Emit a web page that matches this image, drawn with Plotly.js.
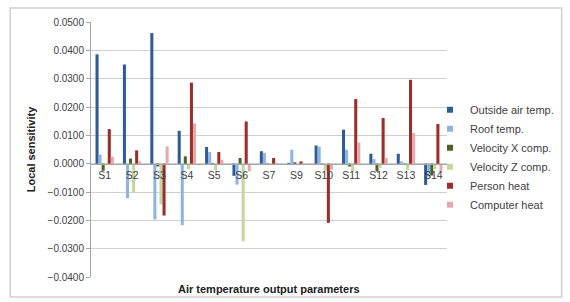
<!DOCTYPE html>
<html><head><meta charset="utf-8">
<script src="https://cdn.plot.ly/plotly-3.0.1.min.js"></script>
<style>html,body{margin:0;padding:0;background:#fff;}#chart{width:570px;height:302px;}</style>
</head><body><div id="chart"></div>
<script>
const categories = ["S1","S2","S3","S4","S5","S6","S7","S9","S10","S11","S12","S13","S14"];
const outsideAir  = [0.0386, 0.0350, 0.0461, 0.0116, 0.0059, -0.0043, 0.0044, 0.0003, 0.0064, 0.0120, 0.0035, 0.0035, -0.0075];
const roofTemp    = [0.0032, -0.0122, -0.0197, -0.0217, 0.0041, -0.0074, 0.0038, 0.0049, 0.0059, 0.0049, 0.0016, 0.0008, -0.0045];
const velocityX   = [-0.0025, 0.0018, -0.0010, 0.0026, 0.0002, 0.0020, -0.0005, 0.0005, -0.0005, -0.0010, -0.0028, -0.0005, -0.0042];
const velocityZ   = [-0.0003, -0.0100, -0.0144, -0.0020, -0.0024, -0.0274, -0.0002, 0.0001, -0.0025, -0.0027, -0.0015, -0.0023, -0.0020];
const personHeat  = [0.0122, 0.0047, -0.0183, 0.0286, 0.0041, 0.0149, 0.0020, 0.0008, -0.0209, 0.0228, 0.0161, 0.0296, 0.0140];
const computerHeat= [0.0024, 0.0008, 0.0061, 0.0142, 0.0014, -0.0027, 0.0003, 0.0001, -0.0022, 0.0075, 0.0020, 0.0108, -0.0030];

const seriesNames = ["Outside air temp.","Roof temp.","Velocity X comp.","Velocity Z comp.","Person heat","Computer heat"];
const seriesColors = ["#2E5C98","#8FB4E3","#4A6426","#C3D69B","#9B2D2B","#E6A9AB"];
const seriesData = [outsideAir, roofTemp, velocityX, velocityZ, personHeat, computerHeat];

const traces = seriesData.map((d,i)=>({
  type:'bar', x:categories, y:d, name:seriesNames[i], showlegend:false,
  marker:{color:seriesColors[i], line:{width:0}}
}));
// legend entries with small square symbols, as in the original
seriesNames.forEach((n,i)=>traces.push({
  type:'scatter', mode:'markers', x:[null], y:[null], name:n, showlegend:true,
  marker:{symbol:'square', size:6, color:seriesColors[i]}
}));

const plotL=91, plotR=448, plotT=22, plotB=277;
const H=302, W=570;
const zeroPos = (0-(-0.04))/(0.05-(-0.04));

const layout = {
  width:W, height:H,
  margin:{l:plotL, r:W-plotR, t:plotT, b:H-plotB},
  paper_bgcolor:'#fff', plot_bgcolor:'#fff',
  font:{family:'Liberation Sans, Arial, sans-serif', size:10, color:'#404040'},
  barmode:'group', bargap:0.33, bargroupgap:0,
  showlegend:true,
  legend:{x:(430-plotL)/(plotR-plotL), y:0.713, xanchor:'left', yanchor:'top', font:{size:11, color:'#404040'},
    itemwidth:30, tracegroupgap:0, bgcolor:'rgba(0,0,0,0)'},
  xaxis:{type:'category', anchor:'free', position:zeroPos, showline:true, linecolor:'#a6a6a6', linewidth:1,
    ticks:'', showgrid:false, zeroline:false, tickfont:{size:10.5, color:'#404040'}, ticklabelstandoff:2},
  yaxis:{range:[-0.04,0.05], dtick:0.01, tick0:0, tickformat:'.4f', showgrid:true, gridcolor:'#cfcfcf', gridwidth:1,
    zeroline:false, showline:true, linecolor:'#a6a6a6', ticks:'outside', ticklen:4, tickcolor:'#a6a6a6',
    tickfont:{size:10, color:'#404040'},
    title:{text:'<b>Local sensitivity</b>', font:{size:11, color:'#202020'}, standoff:9}},
  annotations:[{text:'<b>Air temperature output parameters</b>', xref:'paper', yref:'paper',
    x:0.5, y:-0.014, xanchor:'center', yanchor:'top', showarrow:false, font:{size:11, color:'#202020'}}],
  shapes:[{type:'rect', xref:'paper', yref:'paper', x0:(10-plotL)/(plotR-plotL), x1:(563-plotL)/(plotR-plotL),
    y0:(plotB-297)/(plotB-plotT), y1:(plotB-8)/(plotB-plotT), line:{color:'#d0d0d0', width:1.5}, layer:'below'}]
};

Plotly.newPlot('chart', traces, layout, {displayModeBar:false, staticPlot:true});
</script></body></html>
